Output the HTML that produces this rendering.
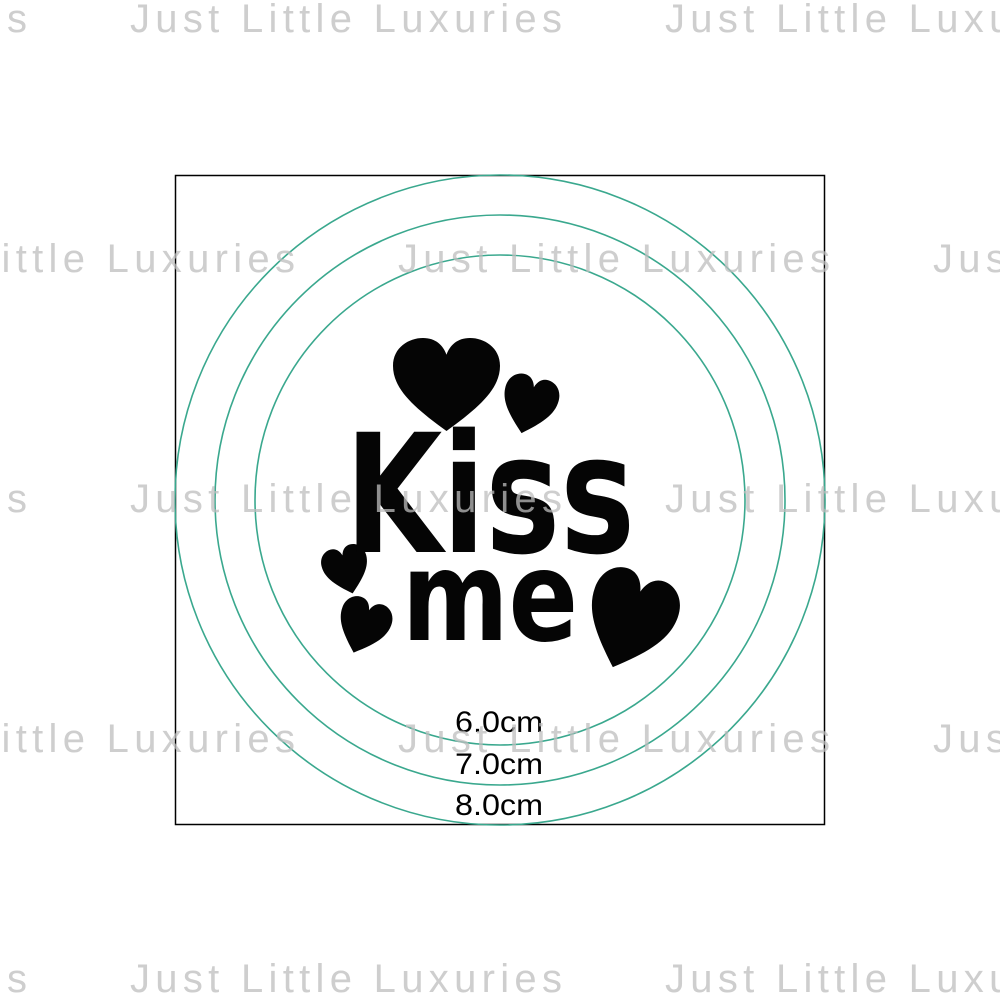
<!DOCTYPE html>
<html><head><style>
html,body{margin:0;padding:0;background:#fff;width:1000px;height:1000px;overflow:hidden}
</style></head><body>
<svg width="1000" height="1000" viewBox="0 0 1000 1000" xmlns="http://www.w3.org/2000/svg">
<defs>
<path id="h" d="M0.5,1 C0.2,0.75 0,0.55 0,0.3 C0,0.1 0.15,0 0.28,0 C0.4,0 0.47,0.08 0.5,0.18 C0.53,0.08 0.6,0 0.72,0 C0.85,0 1,0.1 1,0.3 C1,0.55 0.8,0.75 0.5,1Z"/>
</defs>
<rect x="175.5" y="175.5" width="649" height="649" fill="none" stroke="#000" stroke-width="1.5"/>
<g fill="none" stroke="#3aa88e" stroke-width="1.6">
<circle cx="500" cy="500" r="325"/>
<circle cx="500" cy="500" r="285"/>
<circle cx="500" cy="500" r="245"/>
</g>
<g fill="#050505">
<use href="#h" transform="translate(393,338) scale(107,93)"/>
<use href="#h" transform="translate(510,370) rotate(15) scale(55,58)"/>
<use href="#h" transform="translate(318,553) rotate(-15) scale(46,48)"/>
<use href="#h" transform="translate(348,592) rotate(20) scale(52,55)"/>
<use href="#h" transform="translate(605,560) rotate(20) scale(88,98)"/>
<text x="345" y="552" font-family="DejaVu Sans, Liberation Sans, sans-serif" font-weight="bold" font-size="165" textLength="290" lengthAdjust="spacingAndGlyphs">Kiss</text>
<text x="402" y="640" font-family="DejaVu Sans, Liberation Sans, sans-serif" font-weight="bold" font-size="125" textLength="176" lengthAdjust="spacingAndGlyphs">me</text>
</g>
<g font-family="Liberation Sans, sans-serif" font-size="30" fill="#000" text-anchor="middle">
<text x="499" y="732" textLength="88" lengthAdjust="spacingAndGlyphs">6.0cm</text>
<text x="499" y="774" textLength="88" lengthAdjust="spacingAndGlyphs">7.0cm</text>
<text x="499" y="815" textLength="88" lengthAdjust="spacingAndGlyphs">8.0cm</text>
</g>
<g font-family="Liberation Sans, sans-serif" font-size="40" fill="#bdbdbd" fill-opacity="0.75" letter-spacing="5.3">
<text x="-405" y="32">Just Little Luxuries</text>
<text x="130" y="32">Just Little Luxuries</text>
<text x="665" y="32">Just Little Luxuries</text>
<text x="-137" y="272">Just Little Luxuries</text>
<text x="398" y="272">Just Little Luxuries</text>
<text x="933" y="272">Just Little Luxuries</text>
<text x="-405" y="512">Just Little Luxuries</text>
<text x="130" y="512">Just Little Luxuries</text>
<text x="665" y="512">Just Little Luxuries</text>
<text x="-137" y="752">Just Little Luxuries</text>
<text x="398" y="752">Just Little Luxuries</text>
<text x="933" y="752">Just Little Luxuries</text>
<text x="-405" y="992">Just Little Luxuries</text>
<text x="130" y="992">Just Little Luxuries</text>
<text x="665" y="992">Just Little Luxuries</text>
</g>
</svg>
</body></html>
